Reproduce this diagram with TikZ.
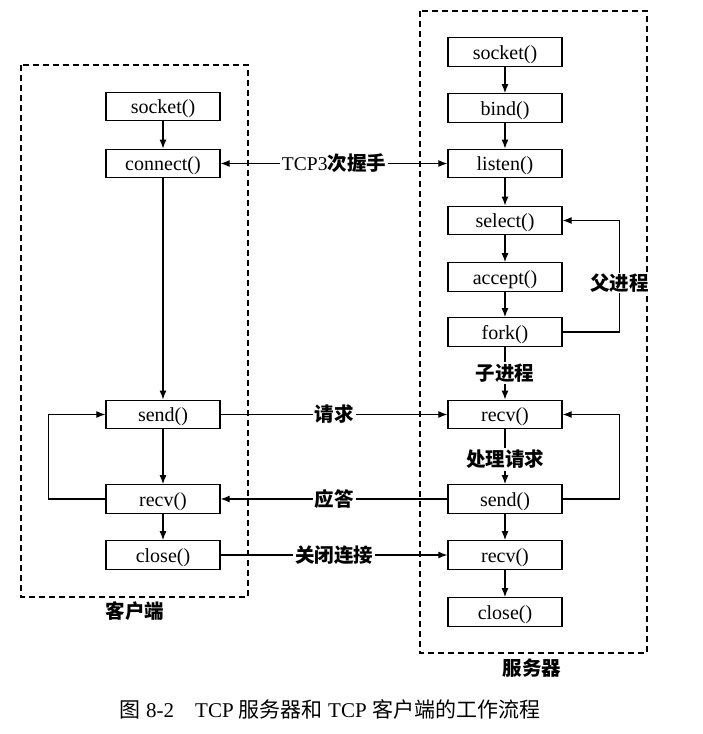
\documentclass[tikz,border=0pt]{standalone}
\usepackage{fontspec}
\setmainfont{Liberation Serif}
\newfontfamily\cjk{Noto Sans CJK SC}
\usetikzlibrary{arrows.meta}
\newcommand\zhb[1]{{\cjk\bfseries #1}}
\begin{document}
\begin{tikzpicture}[x=1pt,y=-1pt,
  fn/.style={draw, line width=1.3pt, minimum width=114pt, minimum height=28.5pt, inner sep=0pt, text height=15pt, text depth=1pt, font=\fontsize{20}{23}\selectfont},
  arr/.style={line width=1.2pt, -{Latex[length=9pt,width=7pt]}},
  biarr/.style={line width=1.2pt, {Latex[length=9pt,width=7pt]}-{Latex[length=9pt,width=7pt]}},
  lbl/.style={fill=white, inner sep=2pt, font=\fontsize{19.5}{22}\selectfont},
  grp/.style={draw, line width=1.4pt, dash pattern=on 6pt off 4pt},
  grplbl/.style={font=\fontsize{19.5}{22}\selectfont}
]
\useasboundingbox (0,0) rectangle (703,734);
% groups
\draw[grp] (21,65) rectangle (248,597);
\draw[grp] (420,11) rectangle (647,653);
\node[grplbl] (clabel) at (135,611) {\zhb{客户端}};
\node[grplbl] (slabel) at (532,668) {\zhb{服务器}};
% client
\node[fn] (csock) at (163,106.5) {socket()};
\node[fn] (cconn) at (163,163.5) {connect()};
\node[fn] (csend) at (163,414.5) {send()};
\node[fn] (crecv) at (163,499) {recv()};
\node[fn] (cclose) at (163,555) {close()};
% server
\node[fn] (ssock) at (505,52) {socket()};
\node[fn] (sbind) at (505,108) {bind()};
\node[fn] (slisten) at (505,163.5) {listen()};
\node[fn] (sselect) at (505,220.5) {select()};
\node[fn] (saccept) at (505,277) {accept()};
\node[fn] (sfork) at (505,332) {fork()};
\node[fn] (srecv) at (505,414.5) {recv()};
\node[fn] (ssend) at (505,499) {send()};
\node[fn] (srecvb) at (505,555) {recv()};
\node[fn] (sclose) at (505,612) {close()};
% client flow
\draw[arr] (csock) -- (cconn);
\draw[arr] (cconn) -- (csend);
\draw[arr] (csend) -- (crecv);
\draw[arr] (crecv) -- (cclose);
\draw[arr] (crecv.west) -- ++(-57,0) |- (csend.west);
% server flow
\draw[arr] (ssock) -- (sbind);
\draw[arr] (sbind) -- (slisten);
\draw[arr] (slisten) -- (sselect);
\draw[arr] (sselect) -- (saccept);
\draw[arr] (saccept) -- (sfork);
\draw[arr] (sfork) -- node[lbl] {\zhb{子进程}} (srecv);
\draw[arr] (srecv) -- node[lbl, pos=0.55] {\zhb{处理请求}} (ssend);
\draw[arr] (ssend) -- (srecvb);
\draw[arr] (srecvb) -- (sclose);
\draw[arr] (sfork.east) -- ++(57,0) |- node[lbl, pos=0.22, inner sep=1pt] {\zhb{父进程}} (sselect.east);
\draw[arr] (ssend.east) -- ++(57,0) |- (srecv.east);
% between
\draw[biarr] (cconn) -- node[lbl] {TCP3\zhb{次握手}} (slisten);
\draw[arr] (csend) -- node[lbl] {\zhb{请求}} (srecv);
\draw[arr] (ssend) -- node[lbl] {\zhb{应答}} (crecv);
\draw[arr] (cclose) -- node[lbl] {\zhb{关闭连接}} (srecvb);
% caption
\node[font=\fontsize{21}{24}\selectfont] (cap) at (330,709) {{\cjk 图} 8-2\quad TCP {\cjk 服务器和} TCP {\cjk 客户端的工作流程}};
\end{tikzpicture}
\end{document}
